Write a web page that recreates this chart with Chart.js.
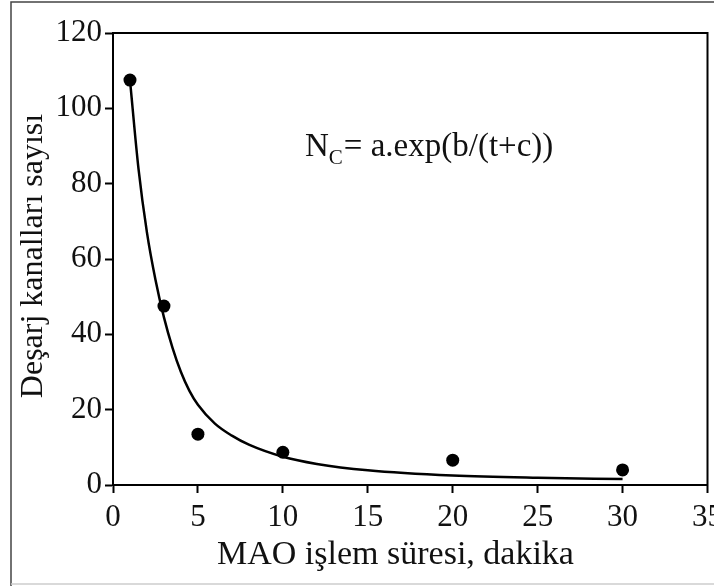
<!DOCTYPE html>
<html>
<head>
<meta charset="utf-8">
<script src="https://cdn.jsdelivr.net/npm/chart.js@4"></script>
<style>
  html, body { margin: 0; padding: 0; background: #fff; overflow: hidden; }
  #wrap { position: relative; width: 714px; height: 586px; }
</style>
</head>
<body>
<div id="wrap"><canvas id="chart"></canvas></div>
<script>
// ölçüm noktaları
const sureler = [1, 3, 5, 10, 20, 30];
const kanalSayisi = [107.5, 47.5, 13.5, 8.7, 6.6, 4];

// uydurma eğrisi
const egriT = [1, 1.5, 2, 2.5, 3, 3.5, 4, 4.5, 5, 6, 7, 8, 10, 12, 15, 20, 25, 30];
const egriN = [107.5, 84, 67, 54.5, 44.5, 36.5, 30, 25, 21.3, 16.3, 13.1, 10.7, 7.5, 5.6, 3.9, 2.5, 1.9, 1.6];

const xTicks = [0, 5, 10, 15, 20, 25, 30, 35];
const yTicks = [0, 20, 40, 60, 80, 100, 120];

const xTitle = "MAO işlem süresi, dakika";
const yTitle = "Deşarj kanalları sayısı";

const FONT = "'Liberation Serif', 'Times New Roman', serif";

const frame = {
  id: "frame",
  beforeDraw(chart) {
    const c = chart.ctx;
    c.save();
    c.strokeStyle = "#444";
    c.lineWidth = 1.5;
    c.beginPath();
    c.moveTo(11, 586);
    c.lineTo(11, 2);
    c.lineTo(714, 2);
    c.stroke();
    c.strokeStyle = "#ccc";
    c.beginPath();
    c.moveTo(11, 584);
    c.lineTo(714, 584);
    c.stroke();
    c.restore();
  },
  afterDraw(chart) {
    const c = chart.ctx;
    const a = chart.chartArea;
    c.save();
    c.strokeStyle = "#000";
    c.lineWidth = 2;
    c.strokeRect(a.left, a.top, a.right - a.left, a.bottom - a.top);

    c.fillStyle = "#111";
    c.font = "34px " + FONT;
    c.textAlign = "left";
    c.textBaseline = "alphabetic";
    c.fillText(xTitle, 217, 564);

    c.font = "32px " + FONT;
    c.translate(42, 256);
    c.rotate(-Math.PI / 2);
    c.textAlign = "center";
    c.fillText(yTitle, 0, 0);
    c.restore();

    // denklem
    c.save();
    c.fillStyle = "#111";
    c.textBaseline = "alphabetic";
    c.textAlign = "left";
    let x = 305;
    c.font = "33px " + FONT;
    c.fillText("N", x, 156);
    x += c.measureText("N").width;
    c.font = "21px " + FONT;
    c.fillText("C", x, 164);
    x += c.measureText("C").width + 1;
    c.font = "33px " + FONT;
    c.fillText("= a.exp(b/(t+c))", x, 156);
    c.restore();
  }
};

new Chart(document.getElementById("chart"), {
  type: "scatter",
  data: {
    datasets: [
      {
        label: "ölçüm",
        data: sureler.map((t, i) => ({ x: t, y: kanalSayisi[i] })),
        pointRadius: 6.5,
        pointBackgroundColor: "#000",
        pointBorderColor: "#000",
        pointBorderWidth: 0,
      },
      {
        label: "eğri",
        data: egriT.map((t, i) => ({ x: t, y: egriN[i] })),
        showLine: true,
        pointRadius: 0,
        borderColor: "#000",
        borderWidth: 2.5,
        cubicInterpolationMode: "monotone",
      },
    ],
  },
  options: {
    responsive: true,
    maintainAspectRatio: false,
    animation: false,
    devicePixelRatio: 1,
    layout: { padding: { top: 33, right: 6, left: 0, bottom: 0 } },
    plugins: { legend: { display: false }, tooltip: { enabled: false } },
    scales: {
      x: {
        type: "linear",
        min: 0,
        max: 35,
        afterBuildTicks: (s) => { s.ticks = xTicks.map((v) => ({ value: v })); },
        afterFit: (s) => { s.height = 101; s.paddingLeft = 0; s.paddingRight = 0; },
        ticks: { color: "#111", font: { family: FONT, size: 31 }, padding: 6, maxRotation: 0, autoSkip: false },
        grid: { drawOnChartArea: false, tickLength: 8, tickColor: "#000", tickWidth: 2 },
        border: { color: "#000", width: 2 },
      },
      y: {
        min: 0,
        max: 120,
        afterBuildTicks: (s) => { s.ticks = yTicks.map((v) => ({ value: v })); },
        afterFit: (s) => { s.width = 113; s.paddingTop = 0; s.paddingBottom = 0; },
        ticks: { color: "#111", font: { family: FONT, size: 31 }, padding: 3, autoSkip: false },
        grid: { drawOnChartArea: false, tickLength: 8, tickColor: "#000", tickWidth: 2 },
        border: { color: "#000", width: 2 },
      },
    },
  },
  plugins: [frame],
});
</script>
</body>
</html>
